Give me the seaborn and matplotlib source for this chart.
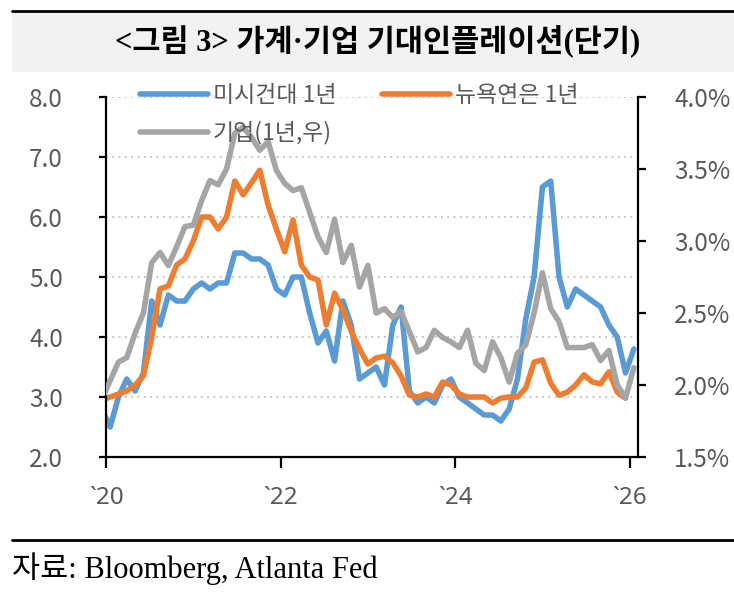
import numpy as np
import pandas as pd
import matplotlib
matplotlib.use("Agg")
import matplotlib.pyplot as plt
from matplotlib.patches import Rectangle
from matplotlib.lines import Line2D
from matplotlib.ticker import FuncFormatter
import seaborn as sns

sns.set_style("white")
plt.rcParams['font.family'] = ['Noto Sans CJK KR', 'DejaVu Sans']

# ---- data (monthly, Nov-2020 .. Mar-2026) ----
michigan_1y = [2.8, 2.5, 3.0, 3.3, 3.1, 3.4, 4.6, 4.2, 4.7, 4.6, 4.6, 4.8, 4.9, 4.8, 4.9, 4.9,
               5.4, 5.4, 5.3, 5.3, 5.2, 4.8, 4.7, 5.0, 5.0, 4.4, 3.9, 4.1, 3.6, 4.6, 4.2, 3.3,
               3.4, 3.5, 3.2, 4.2, 4.5, 3.1, 2.9, 3.0, 2.9, 3.2, 3.3, 3.0, 2.9, 2.8, 2.7, 2.7,
               2.6, 2.8, 3.3, 4.3, 5.0, 6.5, 6.6, 5.0, 4.5, 4.8, 4.7, 4.6, 4.5, 4.2, 4.0, 3.4, 3.8]
nyfed_1y = [2.95, 3.0, 3.05, 3.1, 3.2, 3.35, 4.0, 4.8, 4.85, 5.2, 5.3, 5.6, 6.0, 6.0, 5.8, 6.0,
            6.6, 6.37, 6.57, 6.78, 6.2, 5.8, 5.42, 5.95, 5.2, 5.0, 4.95, 4.2, 4.73, 4.45, 4.1, 3.8,
            3.55, 3.65, 3.68, 3.57, 3.35, 3.03, 3.0, 3.05, 3.0, 3.25, 3.2, 3.05, 3.0, 3.0, 3.0, 2.9,
            2.98, 3.0, 3.0, 3.15, 3.58, 3.62, 3.23, 3.03, 3.08, 3.2, 3.37, 3.25, 3.22, 3.42, 3.08, 2.98, np.nan]
firm_1y = [1.9, 2.03, 2.16, 2.19, 2.36, 2.5, 2.85, 2.92, 2.83, 2.96, 3.1, 3.11, 3.28, 3.42, 3.39, 3.5,
           3.75, 3.79, 3.72, 3.63, 3.69, 3.49, 3.4, 3.35, 3.37, 3.2, 3.03, 2.92, 3.15, 2.85, 2.97, 2.68,
           2.83, 2.5, 2.53, 2.47, 2.51, 2.37, 2.23, 2.26, 2.38, 2.33, 2.3, 2.26, 2.38, 2.15, 2.1, 2.3,
           2.19, 2.02, 2.22, 2.28, 2.5, 2.78, 2.53, 2.44, 2.26, 2.26, 2.26, 2.28, 2.17, 2.24, 2.0, 1.91, 2.12]
tick_labels = ['`20', '`22', '`24', '`26']
series_names = ['미시건대 1년', '뉴욕연은 1년', '기업(1년,우)']
colors = ['#5B9BD5', '#ED7D31', '#A5A5A5']

df = pd.DataFrame({'t': np.arange(len(michigan_1y)),
                   'mich': michigan_1y, 'ny': nyfed_1y, 'firm': firm_1y})

W, H = 734, 608
fig = plt.figure(figsize=(W / 100, H / 100), dpi=100)

# title band
fig.patches.append(Rectangle((12 / W, 1 - 72 / H), 1 - 12 / W, 61 / H,
                             transform=fig.transFigure, facecolor='#F2F2F2', edgecolor='none', zorder=0))
fig.lines.append(Line2D([12 / W, 1], [1 - 11 / H, 1 - 11 / H], transform=fig.transFigure,
                        color='black', lw=2))
fig.lines.append(Line2D([12 / W, 1], [1 - 540 / H, 1 - 540 / H], transform=fig.transFigure,
                        color='black', lw=2))
fig.text(378 / W, 1 - 42 / H, '<그림 3> 가계·기업 기대인플레이션(단기)', ha='center', va='center',
         fontsize=22, fontweight='bold', family=['Liberation Serif', 'Noto Sans CJK KR'], color='black')
fig.text(12 / W, 1 - 569 / H, '자료: Bloomberg, Atlanta Fed', ha='left', va='center',
         fontsize=22, family=['Liberation Serif', 'Noto Sans CJK KR'], color='black')

ax = fig.add_axes([106 / W, 1 - 457 / H, (638 - 106) / W, (457 - 97) / H])
ax.set_facecolor('none')
ax2 = ax.twinx()

lw = 4.0
sns.lineplot(data=df, x='t', y='mich', ax=ax, color=colors[0], lw=lw, label=series_names[0], legend=False)
sns.lineplot(data=df, x='t', y='ny', ax=ax, color=colors[1], lw=lw, label=series_names[1], legend=False)
sns.lineplot(data=df, x='t', y='firm', ax=ax2, color=colors[2], lw=lw, label=series_names[2], legend=False)

ax.set_xlim(0.5, len(michigan_1y) - 0.5)
ax.set_ylim(2, 8)
ax2.set_ylim(1.5, 4.0)
ax.set_yticks(np.arange(2, 8.01, 1))
ax2.set_yticks(np.arange(1.5, 4.01, 0.5))
ax.yaxis.set_major_formatter(FuncFormatter(lambda v, p: f'{v:.1f}'))
ax2.yaxis.set_major_formatter(FuncFormatter(lambda v, p: f'{v:.1f}%'))
ax.set_xticks([0.5 + 21 * i for i in range(len(tick_labels))])
ax.set_xticklabels(tick_labels, family=['Noto Sans', 'DejaVu Sans'])
ax.set_xlabel('')
ax.set_ylabel('')
ax2.set_ylabel('')

for a in (ax, ax2):
    a.spines['top'].set_visible(False)
    for s in a.spines.values():
        s.set_color('black')
        s.set_linewidth(1.6)
ax.spines['right'].set_visible(False)
ax2.spines['left'].set_visible(False)
ax2.spines['bottom'].set_visible(False)

ax.yaxis.grid(True, color='#BFBFBF', linestyle=(0, (1, 2.5)), lw=1.3)
ax.xaxis.grid(False)
ax2.grid(False)

ax.tick_params(axis='y', direction='out', length=5, width=1.6, color='black',
               labelsize=17.5, labelcolor='#595959', pad=26, left=True)
ax.tick_params(axis='x', direction='out', length=8, width=1.6, color='black',
               labelsize=17.5, labelcolor='#595959', pad=13, bottom=True)
ax2.tick_params(axis='y', direction='out', length=6, width=1.6, color='black',
                labelsize=17.5, labelcolor='#595959', pad=20, right=True)

handles = [Line2D([], [], color=colors[0], lw=lw),
           Line2D([], [], color=colors[2], lw=lw),
           Line2D([], [], color=colors[1], lw=lw)]
labels = [series_names[0], series_names[2], series_names[1]]
leg = ax2.legend(handles, labels, ncol=2, loc='upper left',
                 bbox_to_anchor=(140 / W, 1 - 84 / H), bbox_transform=fig.transFigure,
                 frameon=False, fontsize=16.5, handlelength=2.95, handletextpad=0.22,
                 columnspacing=2.0, labelspacing=0.62, borderpad=0, borderaxespad=0)
for t in leg.get_texts():
    t.set_color('#595959')

fig.savefig('out.png', dpi=100)
